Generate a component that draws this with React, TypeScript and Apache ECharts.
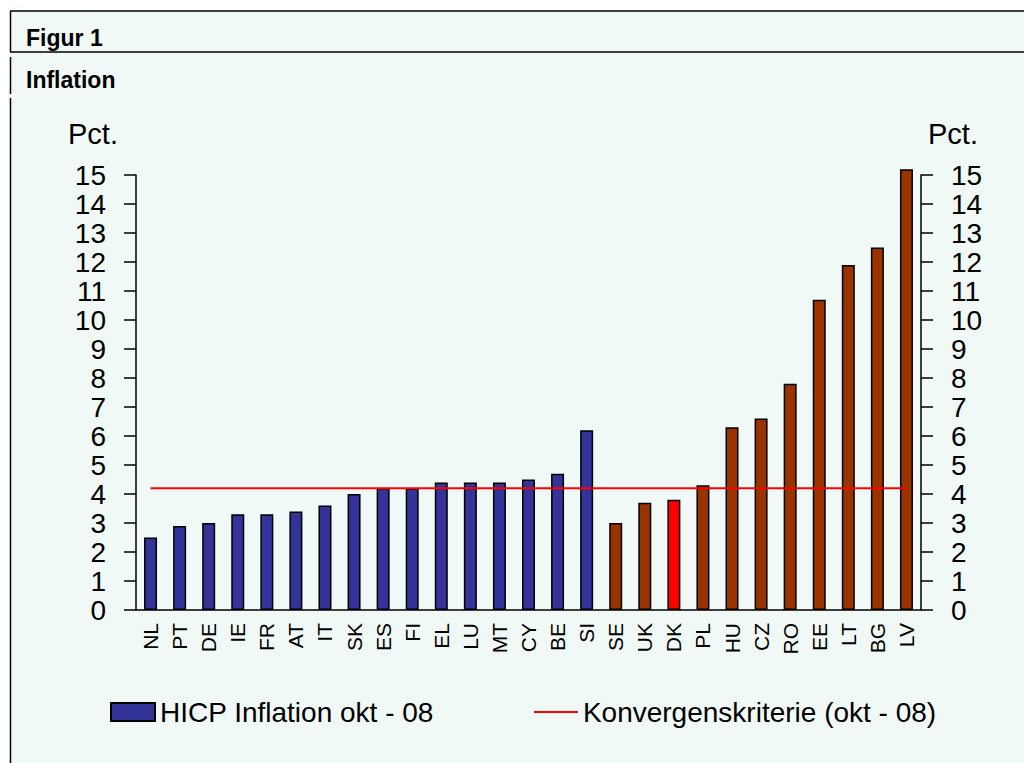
import React, { useEffect, useRef } from "react";
import * as echarts from "echarts";

// ---- Data ----
const categories = [
  "NL", "PT", "DE", "IE", "FR", "AT", "IT", "SK", "ES", "FI", "EL", "LU", "MT", "CY", "BE", "SI",
  "SE", "UK", "DK", "PL", "HU", "CZ", "RO", "EE", "LT", "BG", "LV",
];
const inflation = [
  2.5, 2.9, 3.0, 3.3, 3.3, 3.4, 3.6, 4.0, 4.2, 4.2, 4.4, 4.4, 4.4, 4.5, 4.7, 6.2,
  3.0, 3.7, 3.8, 4.3, 6.3, 6.6, 7.8, 10.7, 11.9, 12.5, 15.2,
];
const euroArea = [
  "NL", "PT", "DE", "IE", "FR", "AT", "IT", "SK", "ES", "FI", "EL", "LU", "MT", "CY", "BE", "SI",
];
const highlighted = ["DK"];
const convergenceCriterion = 4.2;
const seriesNames = ["HICP Inflation okt - 08", "Konvergenskriterie (okt - 08)"];
const yMin = 0;
const yMax = 15;
const yInterval = 1;
const figureLabel = "Figur 1";
const chartTitle = "Inflation";
const unitLabel = "Pct.";

// ---- Styles ----
const FONT = '"Liberation Sans", Arial, Helvetica, sans-serif';
const BLUE = "#333399";
const BROWN = "#993300";
const RED = "#FF0000";
const BG = "#F1F9F6";

export default function App() {
  const ref = useRef<HTMLDivElement>(null);

  useEffect(() => {
    if (!ref.current) return;
    const chart = echarts.init(ref.current, undefined, { renderer: "svg" });

    const barData = categories.map((c, i) => ({
      value: inflation[i],
      itemStyle: {
        color: highlighted.includes(c) ? RED : euroArea.includes(c) ? BLUE : BROWN,
      },
    }));
    const criterionData = categories.map(() => convergenceCriterion);

    const yAxisCommon = {
      type: "value",
      min: yMin,
      max: yMax,
      interval: yInterval,
      splitLine: { show: false },
      axisLine: { show: true, lineStyle: { color: "#000", width: 1.5 } },
      axisTick: { show: true, length: 12, lineStyle: { color: "#000", width: 1.5 } },
      axisLabel: {
        fontFamily: FONT,
        fontSize: 28,
        color: "#000",
        margin: 30,
        showMinLabel: true,
        showMaxLabel: true,
        hideOverlap: false,
      },
    };

    chart.setOption({
      animation: false,
      backgroundColor: "#ffffff",
      textStyle: { fontFamily: FONT },
      graphic: {
        elements: [
          { type: "rect", silent: true, z: -10, shape: { x: 10, y: 11, width: 1014, height: 752 }, style: { fill: BG } },
          { type: "line", silent: true, shape: { x1: 10, y1: 11, x2: 1024, y2: 11 }, style: { stroke: "#000", lineWidth: 1.5 } },
          { type: "line", silent: true, shape: { x1: 10, y1: 52, x2: 1024, y2: 52 }, style: { stroke: "#000", lineWidth: 1.5 } },
          { type: "line", silent: true, shape: { x1: 10.5, y1: 11, x2: 10.5, y2: 52 }, style: { stroke: "#000", lineWidth: 1.5 } },
          { type: "line", silent: true, shape: { x1: 10.5, y1: 57, x2: 10.5, y2: 94 }, style: { stroke: "#000", lineWidth: 1.5 } },
          { type: "line", silent: true, shape: { x1: 10.5, y1: 98, x2: 10.5, y2: 763 }, style: { stroke: "#000", lineWidth: 1.5 } },
          { type: "text", silent: true, x: 26, y: 38, style: { text: figureLabel, font: `bold 23px ${FONT}`, fill: "#000", textAlign: "left", textVerticalAlign: "middle" } },
          { type: "text", silent: true, x: 26, y: 80, style: { text: chartTitle, font: `bold 23px ${FONT}`, fill: "#000", textAlign: "left", textVerticalAlign: "middle" } },
          { type: "text", silent: true, x: 68, y: 134, style: { text: unitLabel, font: `29px ${FONT}`, fill: "#000", textAlign: "left", textVerticalAlign: "middle" } },
          { type: "text", silent: true, x: 928, y: 134, style: { text: unitLabel, font: `29px ${FONT}`, fill: "#000", textAlign: "left", textVerticalAlign: "middle" } },
        ],
      },
      grid: { left: 136, right: 103, top: 175, bottom: 153, containLabel: false, outerBoundsMode: "none" },
      legend: {
        left: 105,
        top: 693,
        itemWidth: 44,
        itemHeight: 18,
        itemGap: 100,
        textStyle: { fontFamily: FONT, fontSize: 28, color: "#000" },
        data: [
          { name: seriesNames[0], icon: "rect" },
          { name: seriesNames[1], icon: "path://M0,0L100,0L100,4.5L0,4.5Z" },
        ],
      },
      xAxis: {
        type: "category",
        data: categories,
        boundaryGap: true,
        axisLine: { show: true, lineStyle: { color: "#000", width: 1.5 } },
        axisTick: { show: false },
        axisLabel: { rotate: 90, interval: 0, fontFamily: FONT, fontSize: 21, color: "#000", margin: 13 },
      },
      yAxis: [
        { ...yAxisCommon, position: "left" },
        { ...yAxisCommon, position: "right" },
      ],
      series: [
        {
          name: seriesNames[0],
          type: "bar",
          data: barData,
          barWidth: 13,
          clip: false,
          itemStyle: { color: BLUE, borderColor: "#000", borderWidth: 1.5 },
          z: 2,
        },
        {
          name: seriesNames[1],
          type: "line",
          data: criterionData,
          symbol: "none",
          lineStyle: { color: RED, width: 2 },
          itemStyle: { color: RED },
          z: 3,
        },
      ],
    });

    return () => chart.dispose();
  }, []);

  return (
    <div
      ref={ref}
      style={{ position: "fixed", left: 0, top: 0, width: 1024, height: 763 }}
    />
  );
}
